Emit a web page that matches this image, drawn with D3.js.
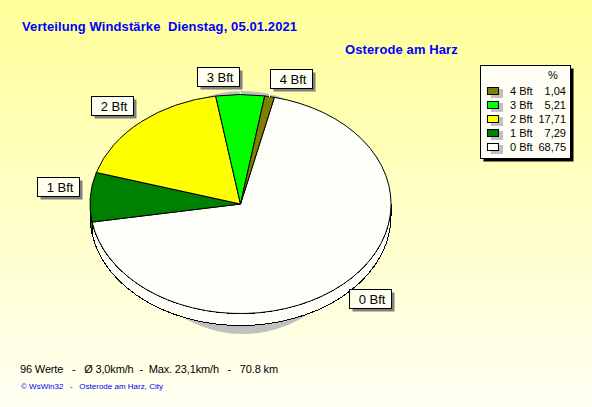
<!DOCTYPE html>
<html><head><meta charset="utf-8">
<script src="https://cdn.jsdelivr.net/npm/d3@7"></script>
<style>html,body{margin:0;padding:0;background:#ffffee}svg{display:block}text{font-family:"Liberation Sans",Arial,sans-serif}</style>
</head><body><svg id="c" width="592" height="407"></svg>
<script>
const categories = ["0 Bft","1 Bft","2 Bft","3 Bft","4 Bft"];
const percents = [68.75,7.29,17.71,5.21,1.04];
const percentLabels = ["68,75","7,29","17,71","5,21","1,04"];
const colors = ["#fffffa","#008000","#ffff00","#00ff00","#808000"];
const titleText = "Verteilung Windstärke  Dienstag, 05.01.2021";
const stationText = "Osterode am Harz";
const statsText = "96 Werte   -   Ø 3,0km/h  -  Max. 23,1km/h   -   70.8 km";
const footerText = "© WsWin32   -   Osterode am Harz, City";

const svg = d3.select("#c");
const defs = svg.append("defs");
const g = defs.append("linearGradient").attr("id","bg").attr("x1",0).attr("y1",0).attr("x2",0).attr("y2",1);
g.append("stop").attr("offset",0).attr("stop-color","#ffff99");
g.append("stop").attr("offset",1).attr("stop-color","#fffff2");
svg.append("rect").attr("width",592).attr("height",407).attr("fill","url(#bg)");

const cx=240.5, cy=204, rx=150.5, ry=109.5, depth=12;
const ellipseX = a=>cx+rx*Math.sin(a), ellipseY = a=>cy-ry*Math.cos(a);
const rad = d3.scaleLinear().domain([0,360]).range([0,2*Math.PI]);
const start = rad(13);
const arcs = d3.pie().sort(null).value(d=>d).startAngle(start).endAngle(start+2*Math.PI)(percents);

// shadow disc
svg.append("ellipse").attr("cx",243).attr("cy",212.5).attr("rx",119).attr("ry",121.5).attr("fill","#c0c0c0");

// side wall
const lo=Math.PI/2, hi=3*Math.PI/2;
const wall = svg.append("g").attr("shape-rendering","crispEdges");
arcs.forEach(d=>{
  const a0=Math.max(d.startAngle,lo), a1=Math.min(d.endAngle,hi);
  if(a1<=a0) return;
  const large=(a1-a0)>Math.PI?1:0;
  const p=`M${ellipseX(a0)},${ellipseY(a0)}A${rx},${ry} 0 ${large} 1 ${ellipseX(a1)},${ellipseY(a1)}`+
          `L${ellipseX(a1)},${ellipseY(a1)+depth}A${rx},${ry} 0 ${large} 0 ${ellipseX(a0)},${ellipseY(a0)+depth}Z`;
  wall.append("path").attr("d",p).attr("fill",colors[d.index]).attr("stroke","#000").attr("stroke-width",1);
});

// top face
const arcGen=d3.arc().innerRadius(0).outerRadius(1);
const face=svg.append("g").attr("transform",`translate(${cx},${cy}) scale(${rx},${ry})`);
face.selectAll("path").data(arcs).join("path").attr("d",arcGen)
  .attr("fill",(d,i)=>colors[i]).attr("stroke","#000").attr("stroke-width",1)
  .attr("vector-effect","non-scaling-stroke").attr("shape-rendering","crispEdges");

// pointers and labels
const labelArc=d3.arc().innerRadius(1).outerRadius(1);
const boxW=42, boxH=19;
const lab=svg.append("g");
arcs.forEach((d,i)=>{
  const [mx,my]=labelArc.centroid(d);
  const ax=cx-0.5+mx*rx*1.065, ay=cy+my*ry*1.072;
  const ex=cx+mx*rx, ey=cy+my*ry;
  lab.append("line").attr("x1",ax).attr("y1",ay).attr("x2",ex).attr("y2",ey).attr("stroke","#fffff0").attr("shape-rendering","crispEdges");
  const x=Math.floor((mx>0?ax:ax-boxW)-0.2)+0.5, y=Math.floor(my>0?ay:ay-boxH)+0.5;
  lab.append("rect").attr("x",x+3).attr("y",y+3).attr("width",boxW).attr("height",boxH).attr("fill","#808080");
  lab.append("rect").attr("x",x).attr("y",y).attr("width",boxW).attr("height",boxH).attr("rx",1).attr("fill","#fffff0").attr("stroke","#000").attr("shape-rendering","crispEdges");
  lab.append("text").attr("x",x+boxW/2+1.5).attr("y",y+14).attr("text-anchor","middle").attr("font-size",13).attr("fill","#000").text(categories[i]);
});

// titles
svg.append("text").attr("x",22).attr("y",31).attr("font-size",13).attr("font-weight","bold").attr("letter-spacing",0.1).attr("fill","#0000ff").style("white-space","pre").text(titleText);
svg.append("text").attr("x",345).attr("y",54).attr("font-size",13).attr("font-weight","bold").attr("letter-spacing",0.1).attr("fill","#0000ff").text(stationText);

// legend
const lx=480.5, ly=65.5, lw=90, lh=93;
svg.append("rect").attr("x",lx+3).attr("y",ly+3).attr("width",lw).attr("height",lh).attr("fill","#000");
svg.append("rect").attr("x",lx).attr("y",ly).attr("width",lw).attr("height",lh).attr("fill","#fffff5").attr("stroke","#000").attr("shape-rendering","crispEdges");
svg.append("text").attr("x",553).attr("y",79).attr("text-anchor","middle").attr("font-size",11).attr("fill","#000").text("%");
const rows=d3.range(categories.length).reverse();
const rowY=d3.scalePoint().domain(rows).range([91,147]);
rows.forEach(i=>{
  const y=rowY(i);
  svg.append("rect").attr("x",491).attr("y",y-2).attr("width",12).attr("height",9).attr("fill","#c0c0c0");
  svg.append("rect").attr("x",487.5).attr("y",y-3.5).attr("width",11).attr("height",7).attr("fill",colors[i]).attr("stroke","#000").attr("shape-rendering","crispEdges");
  svg.append("text").attr("x",510).attr("y",y+4).attr("font-size",11).attr("fill","#000").text(categories[i]);
  svg.append("text").attr("x",566).attr("y",y+4).attr("text-anchor","end").attr("font-size",11).attr("fill","#000").text(percentLabels[i]);
});

// footer
svg.append("text").attr("x",20).attr("y",373).attr("font-size",11).attr("letter-spacing",-0.15).attr("fill","#000").style("white-space","pre").text(statsText);
svg.append("text").attr("x",21).attr("y",389).attr("font-size",8).attr("fill","#0000ff").style("white-space","pre").text(footerText);
</script></body></html>
